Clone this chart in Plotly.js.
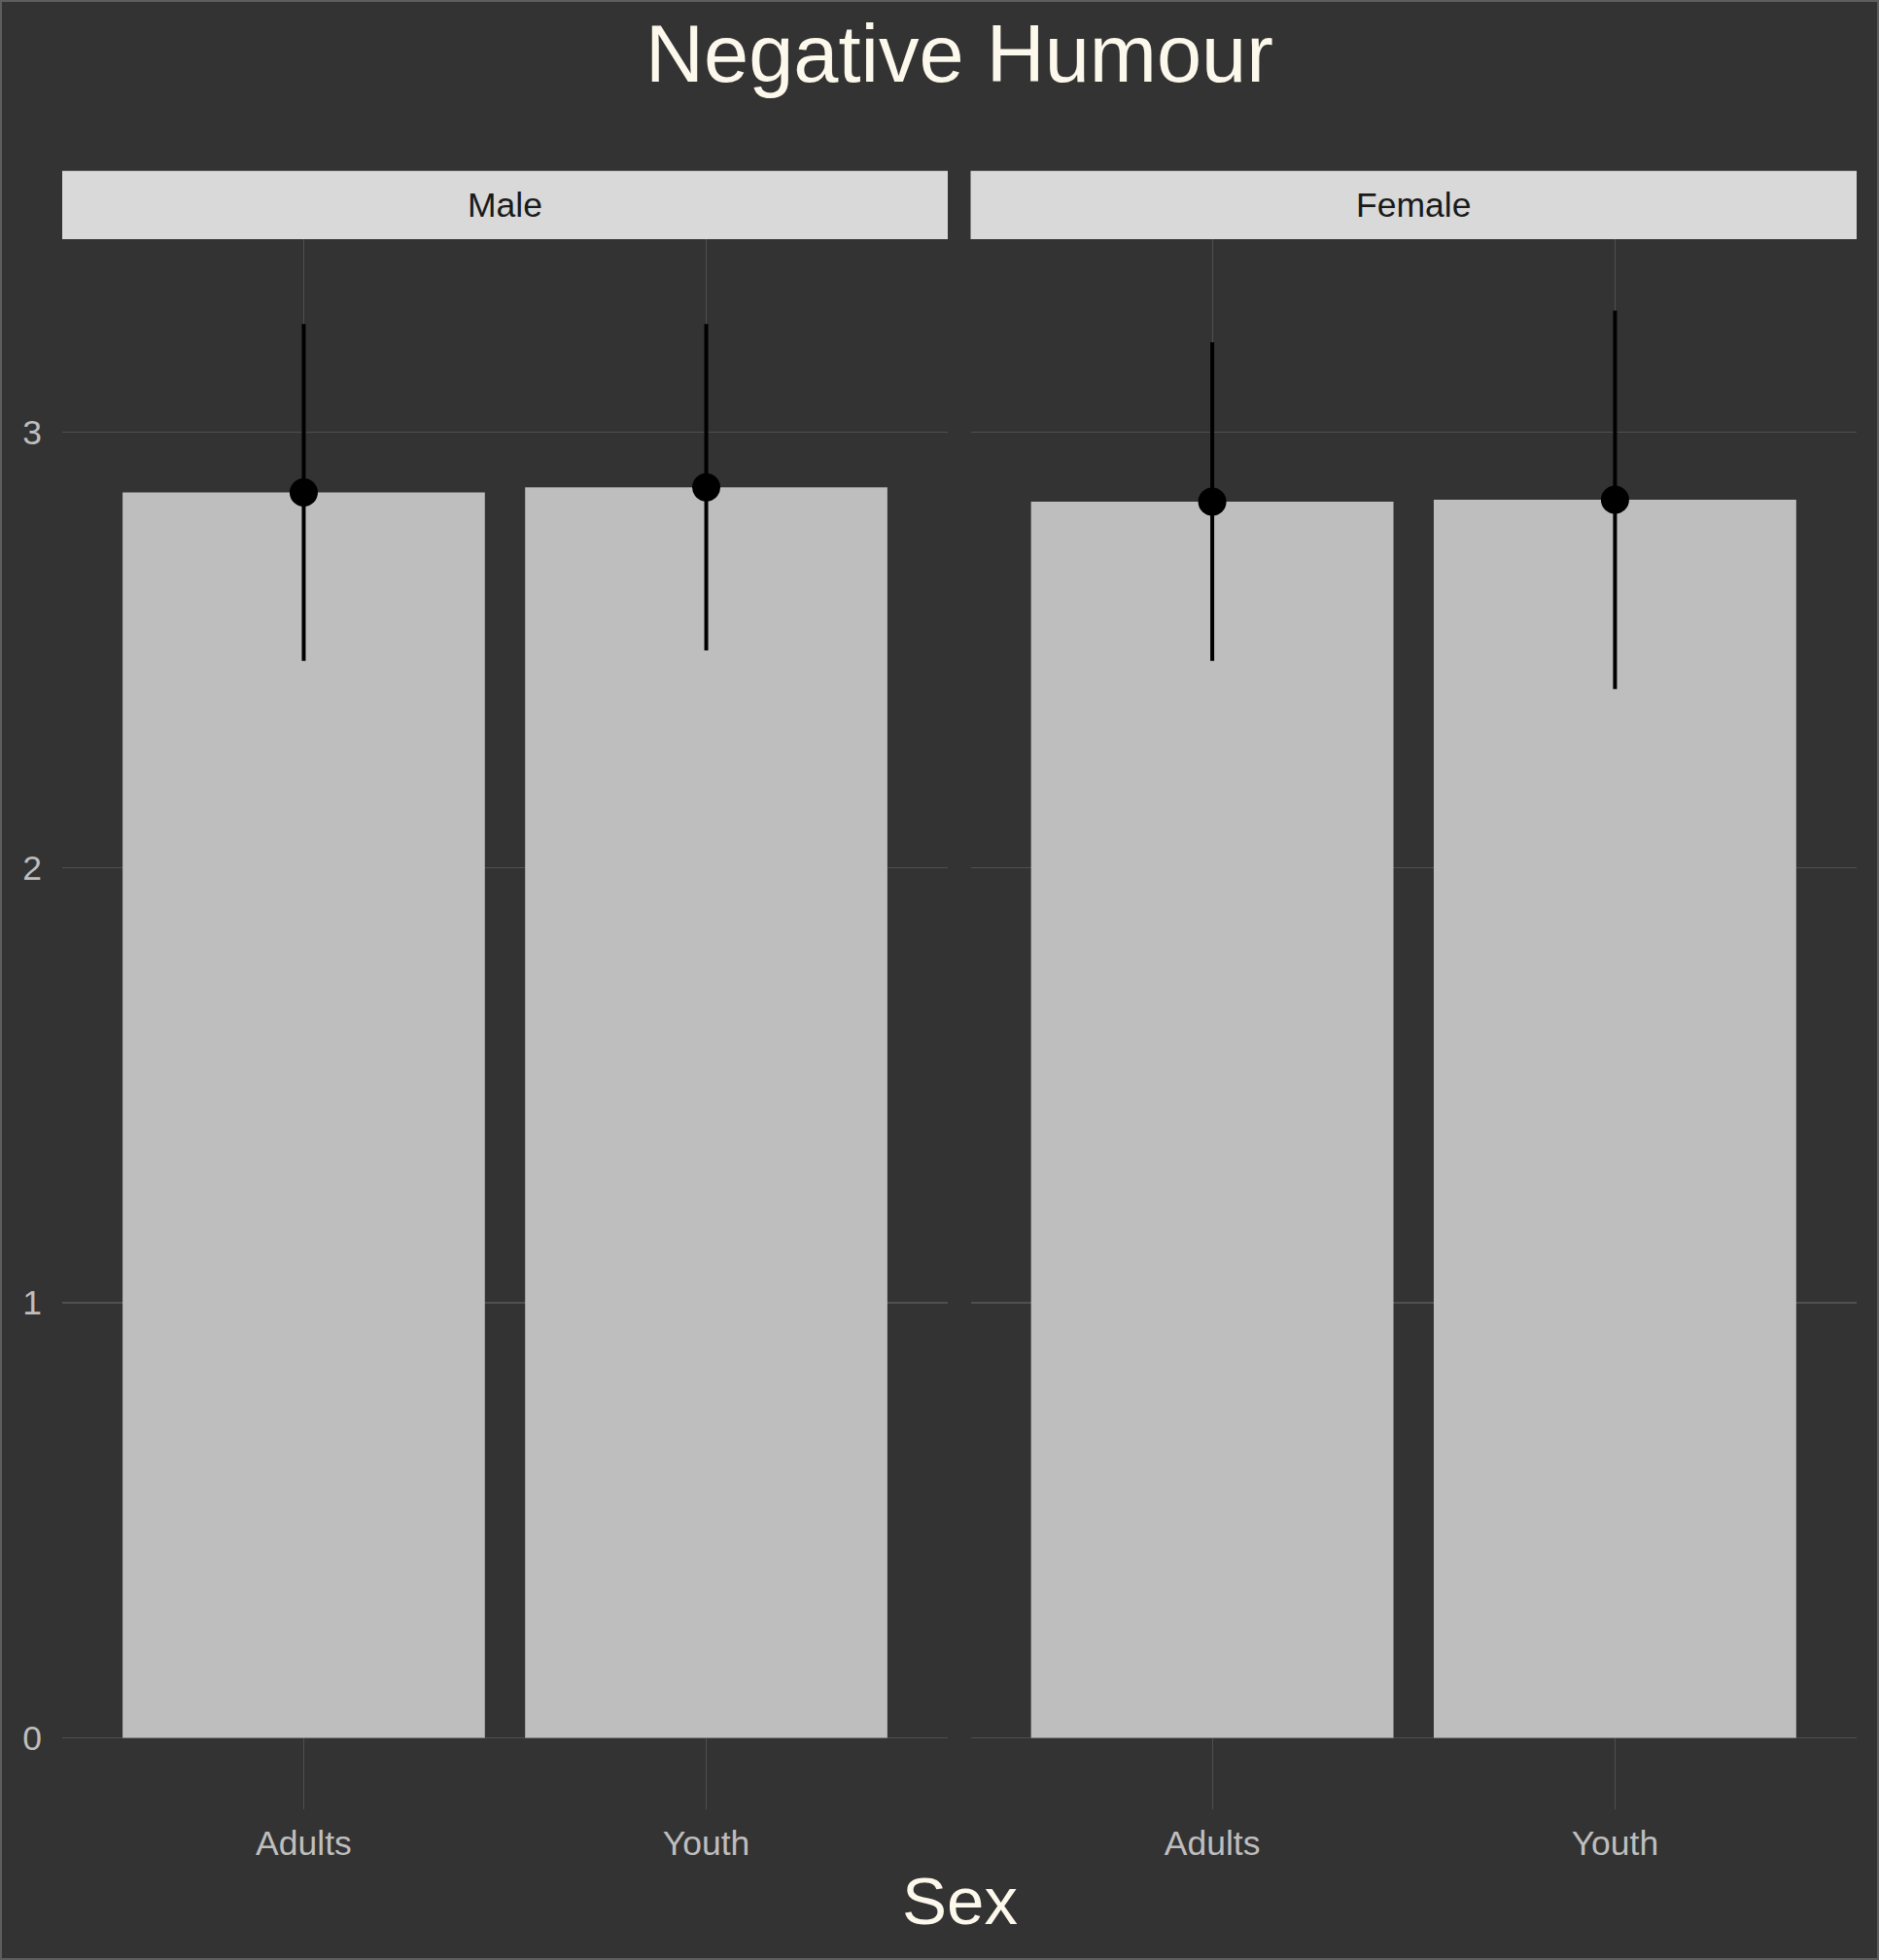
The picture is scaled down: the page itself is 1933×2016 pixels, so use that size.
<!DOCTYPE html>
<html><head><meta charset="utf-8">
<script src="https://cdn.plot.ly/plotly-3.0.1.min.js"></script>
<style>
html,body{margin:0;padding:0;background:#333333;}
#chart{width:1929px;height:2012px;border:2px solid #5e5e5e;}
</style>
</head><body><div id="chart"></div>
<script>
// Data
const groups = ['Adults', 'Youth'];
const panels = ['Male', 'Female'];
const maleMean = [2.862, 2.874];
const maleSd = [0.387, 0.375];
const femaleMean = [2.841, 2.845];
const femaleSd = [0.366, 0.435];
const yTicks = [0, 1, 2, 3];
const chartTitle = 'Negative Humour';
const xTitle = 'Sex';

const FONT = 'Liberation Sans, Arial, Helvetica, sans-serif';
const barColor = '#bebebe';
const gridColor = '#4f4f4f';

function barTrace(means, xa, ya) {
  return {type: 'bar', x: groups, y: means, width: 0.9, xaxis: xa, yaxis: ya,
    marker: {color: barColor, line: {width: 0}}, hoverinfo: 'skip', showlegend: false};
}
function pointTrace(means, sds, xa, ya) {
  return {type: 'scatter', mode: 'markers', x: groups, y: means, xaxis: xa, yaxis: ya,
    marker: {color: '#000000', size: 29},
    error_y: {type: 'data', array: sds, symmetric: true, visible: true, color: '#000000', thickness: 4, width: 0},
    hoverinfo: 'skip', showlegend: false};
}

const data = [
  barTrace(maleMean, 'x', 'y'),
  barTrace(femaleMean, 'x2', 'y2'),
  pointTrace(maleMean, maleSd, 'x', 'y'),
  pointTrace(femaleMean, femaleSd, 'x2', 'y2')
];

const allTops = maleMean.map((m, i) => m + maleSd[i]).concat(femaleMean.map((m, i) => m + femaleSd[i]));
const yMax = Math.max(...allTops);
const yRange = [-0.05 * yMax, 1.05 * yMax];

const PW = 1929 - 62 - 21;
const d1 = [0, 911 / PW];
const d2 = [(996.5 - 62) / PW, 1];

const xAxisBase = {
  type: 'category', range: [-0.6, 1.6], showgrid: true, gridcolor: gridColor, gridwidth: 1.1,
  zeroline: false, showline: false, ticks: '', ticklabelstandoff: 10,
  tickfont: {family: FONT, size: 35.5, color: '#bebebe'}, fixedrange: true
};
const yAxisBase = {
  range: yRange, tickvals: yTicks, ticktext: yTicks.map(String), showgrid: true, gridcolor: gridColor, gridwidth: 1.3,
  zeroline: false, showline: false, ticks: '', fixedrange: true,
  tickfont: {family: FONT, size: 35.5, color: '#bebebe'}
};

const stripH = 70.3 / 1615;
const layout = {
  width: 1929, height: 2012,
  paper_bgcolor: '#333333', plot_bgcolor: '#333333',
  margin: {l: 62, r: 21, t: 244, b: 153, pad: 0},
  font: {family: FONT},
  title: {text: chartTitle, font: {family: FONT, size: 83, color: '#fdf8ec'},
    x: 0.5, xref: 'paper', xanchor: 'center', y: 1 - 53 / 2012, yref: 'container', yanchor: 'middle'},
  xaxis: Object.assign({}, xAxisBase, {domain: d1, anchor: 'y'}),
  xaxis2: Object.assign({}, xAxisBase, {domain: d2, anchor: 'y2'}),
  yaxis: Object.assign({}, yAxisBase, {anchor: 'x', ticklabelstandoff: 20}),
  yaxis2: Object.assign({}, yAxisBase, {anchor: 'x2', matches: 'y', showticklabels: false}),
  bargap: 0.1,
  shapes: [
    {type: 'rect', xref: 'paper', yref: 'paper', x0: d1[0], x1: d1[1], y0: 1, y1: 1 + stripH,
      fillcolor: '#d9d9d9', line: {width: 0}, layer: 'below'},
    {type: 'rect', xref: 'paper', yref: 'paper', x0: d2[0], x1: d2[1], y0: 1, y1: 1 + stripH,
      fillcolor: '#d9d9d9', line: {width: 0}, layer: 'below'}
  ],
  annotations: [
    {text: panels[0], xref: 'paper', yref: 'paper', x: (d1[0] + d1[1]) / 2, y: 1 + stripH / 2,
      xanchor: 'center', yanchor: 'middle', showarrow: false, font: {family: FONT, size: 35.5, color: '#1a1a1a'}},
    {text: panels[1], xref: 'paper', yref: 'paper', x: (d2[0] + d2[1]) / 2, y: 1 + stripH / 2,
      xanchor: 'center', yanchor: 'middle', showarrow: false, font: {family: FONT, size: 35.5, color: '#1a1a1a'}},
    {text: xTitle, xref: 'paper', yref: 'paper', x: 0.5, y: -94 / 1615,
      xanchor: 'center', yanchor: 'middle', showarrow: false, font: {family: FONT, size: 69, color: '#fdf8ec'}}
  ]
};

Plotly.newPlot('chart', data, layout, {displayModeBar: false, staticPlot: true});
</script></body></html>
